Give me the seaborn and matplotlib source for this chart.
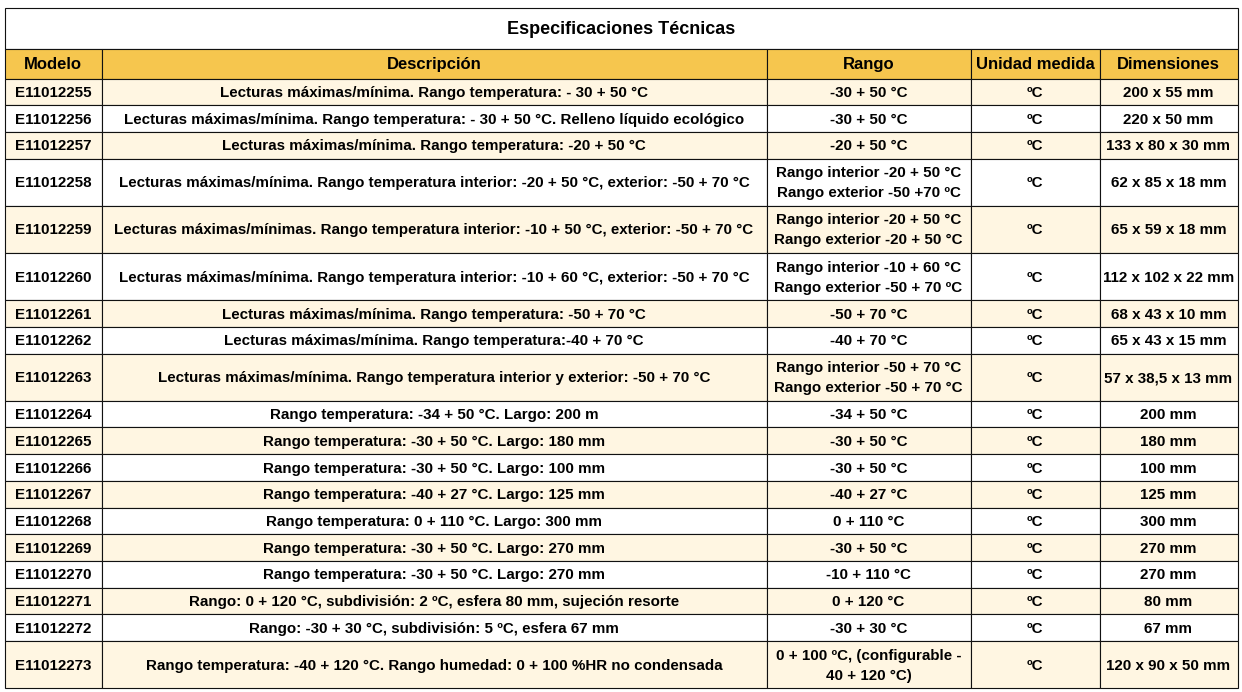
import matplotlib
matplotlib.use("Agg")
import matplotlib.pyplot as plt
from matplotlib.patches import Rectangle
import seaborn as sns

# ---------------- data ----------------
title = "Especificaciones Técnicas"
headers = ["Modelo", "Descripción", "Rango", "Unidad medida", "Dimensiones"]

modelos = [
    "E11012255", "E11012256", "E11012257", "E11012258", "E11012259",
    "E11012260", "E11012261", "E11012262", "E11012263", "E11012264",
    "E11012265", "E11012266", "E11012267", "E11012268", "E11012269",
    "E11012270", "E11012271", "E11012272", "E11012273",
]
descripciones = [
    "Lecturas máximas/mínima. Rango temperatura: - 30 + 50 °C",
    "Lecturas máximas/mínima. Rango temperatura: - 30 + 50 °C. Relleno líquido ecológico",
    "Lecturas máximas/mínima. Rango temperatura: -20 + 50 °C",
    "Lecturas máximas/mínima. Rango temperatura interior: -20 + 50 °C, exterior: -50 + 70 °C",
    "Lecturas máximas/mínimas. Rango temperatura interior: -10 + 50 °C, exterior: -50 + 70 °C",
    "Lecturas máximas/mínima. Rango temperatura interior: -10 + 60 °C, exterior: -50 + 70 °C",
    "Lecturas máximas/mínima. Rango temperatura: -50 + 70 °C",
    "Lecturas máximas/mínima. Rango temperatura:-40 + 70 °C",
    "Lecturas máximas/mínima. Rango temperatura interior y exterior: -50 + 70 °C",
    "Rango temperatura: -34 + 50 °C. Largo: 200 m",
    "Rango temperatura: -30 + 50 °C. Largo: 180 mm",
    "Rango temperatura: -30 + 50 °C. Largo: 100 mm",
    "Rango temperatura: -40 + 27 °C. Largo: 125 mm",
    "Rango temperatura: 0 + 110 °C. Largo: 300 mm",
    "Rango temperatura: -30 + 50 °C. Largo: 270 mm",
    "Rango temperatura: -30 + 50 °C. Largo: 270 mm",
    "Rango: 0 + 120 °C, subdivisión: 2 ºC, esfera 80 mm, sujeción resorte",
    "Rango: -30 + 30 °C, subdivisión: 5 ºC, esfera 67 mm",
    "Rango temperatura: -40 + 120 °C. Rango humedad: 0 + 100 %HR no condensada",
]
rangos = [
    "-30 + 50 °C",
    "-30 + 50 °C",
    "-20 + 50 °C",
    "Rango interior -20 + 50 °C\nRango exterior -50 +70 ºC",
    "Rango interior -20 + 50 °C\nRango exterior -20 + 50 °C",
    "Rango interior -10 + 60 °C\nRango exterior -50 + 70 ºC",
    "-50 + 70 °C",
    "-40 + 70 °C",
    "Rango interior -50 + 70 °C\nRango exterior -50 + 70 °C",
    "-34 + 50 °C",
    "-30 + 50 °C",
    "-30 + 50 °C",
    "-40 + 27 °C",
    "0 + 110 °C",
    "-30 + 50 °C",
    "-10 + 110 °C",
    "0 + 120 °C",
    "-30 + 30 °C",
    "0 + 100 ºC, (configurable -\n40 + 120 °C)",
]
unidades = ["ºC"] * 19
dimensiones = [
    "200 x 55 mm", "220 x 50 mm", "133 x 80 x 30 mm", "62 x 85 x 18 mm",
    "65 x 59 x 18 mm", "112 x 102 x 22 mm", "68 x 43 x 10 mm", "65 x 43 x 15 mm",
    "57 x 38,5 x 13 mm", "200 mm", "180 mm", "100 mm", "125 mm", "300 mm",
    "270 mm", "270 mm", "80 mm", "67 mm", "120 x 90 x 50 mm",
]

# ---------------- layout / style ----------------
W, H = 1242, 692
col_widths = [97, 665, 204, 129, 138]
left, top = 4.5, 7.5
title_h, header_h = 41, 30
single_h, double_h = 26.7, 47.2
line_gap = 20
text_dy = 1.0

header_color = "#F6C64E"
stripe_color = "#FFF6E2"
edge = "#111111"
lw = 0.8

sns.set_theme(style="white")
plt.rcParams["font.family"] = ["Liberation Sans", "DejaVu Sans"]

fig = plt.figure(figsize=(W / 100, H / 100), dpi=100)
ax = fig.add_axes([0, 0, 1, 1])
ax.set_xlim(0, W)
ax.set_ylim(H, 0)
ax.axis("off")

col_x = [left]
for w in col_widths:
    col_x.append(col_x[-1] + w)
right = col_x[-1]

columns = [modelos, descripciones, rangos, unidades, dimensiones]
nrows = len(modelos)
row_h = [double_h if any("\n" in c[i] for c in columns) or i in (3, 4, 5, 8) else single_h
         for i in range(nrows)]

y_title_bot = top + title_h
y_head_bot = y_title_bot + header_h
row_y = [y_head_bot]
for h in row_h:
    row_y.append(row_y[-1] + h)

# title row
ax.add_patch(Rectangle((left, top), right - left, title_h, facecolor="white",
                       edgecolor=edge, lw=lw))
ax.text((left + right) / 2, top + title_h / 2 + text_dy, title, ha="center", va="center",
        fontsize=13, fontweight="bold", color="black")

# header row
for j, hd in enumerate(headers):
    ax.add_patch(Rectangle((col_x[j], y_title_bot), col_widths[j], header_h,
                           facecolor=header_color, edgecolor=edge, lw=lw))
    ax.text(col_x[j] + col_widths[j] / 2, y_title_bot + header_h / 2 + text_dy, hd,
            ha="center", va="center", fontsize=12, fontweight="bold", color="black")

# body rows
for i in range(nrows):
    fc = stripe_color if i % 2 == 0 else "white"
    y0 = row_y[i]
    h = row_h[i]
    for j, col in enumerate(columns):
        ax.add_patch(Rectangle((col_x[j], y0), col_widths[j], h,
                               facecolor=fc, edgecolor=edge, lw=lw))
        lines = col[i].split("\n")
        n = len(lines)
        cy = y0 + h / 2 + text_dy
        for k, ln in enumerate(lines):
            yy = cy + (k - (n - 1) / 2) * line_gap
            ax.text(col_x[j] + col_widths[j] / 2, yy, ln, ha="center",
                    va="center", fontsize=10.9, fontweight="bold", color="black")

fig.savefig("out.png", dpi=100, facecolor="white")
